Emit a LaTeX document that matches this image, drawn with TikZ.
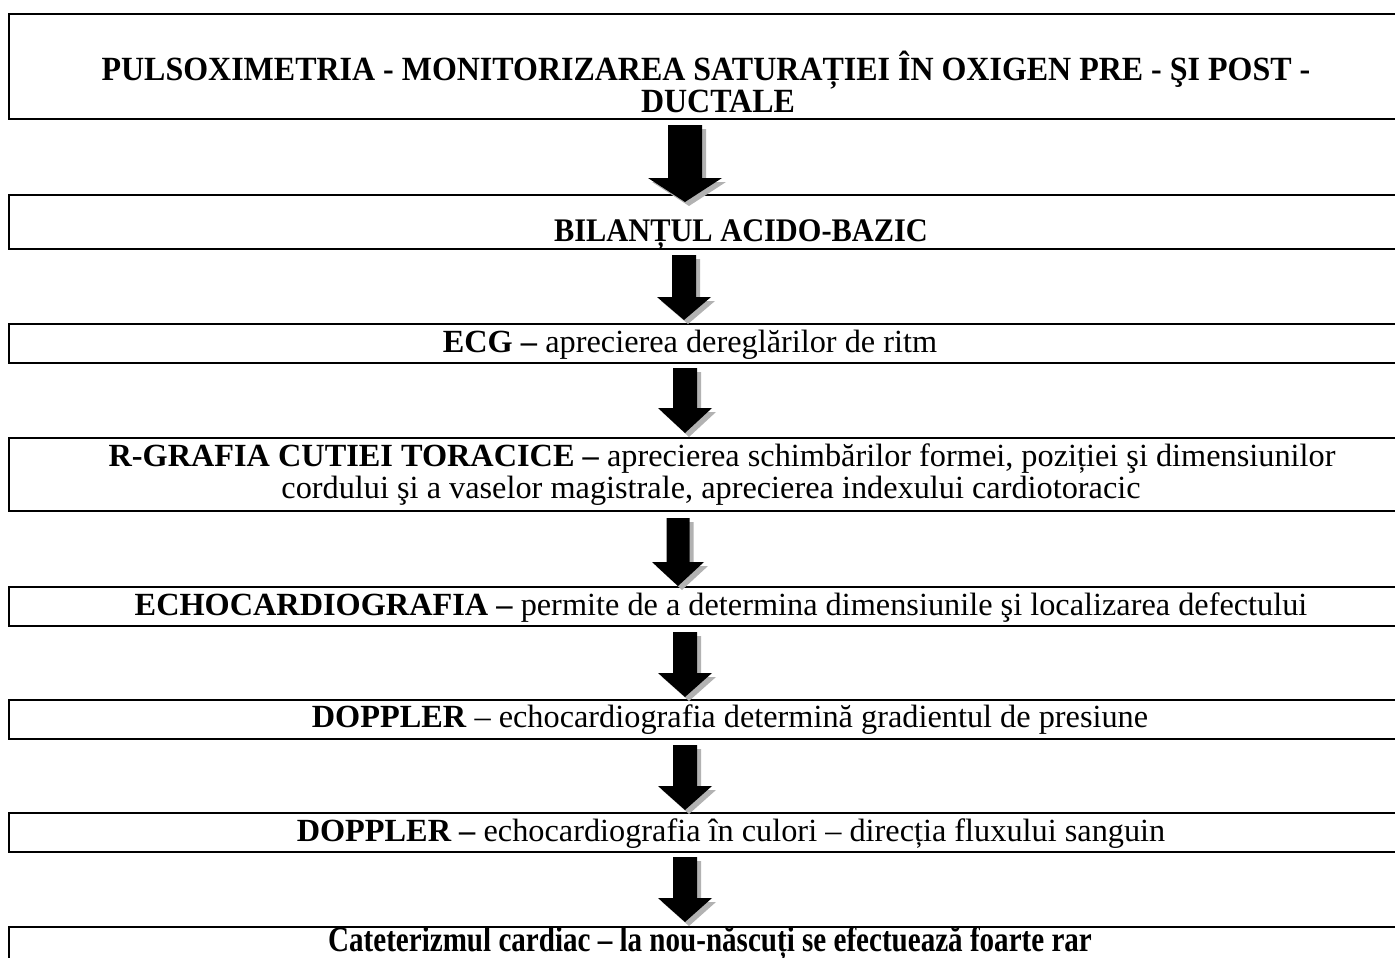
\documentclass[tikz,border=0pt]{standalone}
\usepackage{fontspec}
\setmainfont{Liberation Serif}
\newcommand\blkdownarrow[6]{%
  \fill[gray!60] (#1-#5+4,#2+4) -- (#1+#5+4,#2+4) -- (#1+#5+4,#3+4) -- (#1+#6+4,#3+4) -- (#1+4,#4+4) -- (#1-#6+4,#3+4) -- (#1-#5+4,#3+4) -- cycle;
  \fill[black] (#1-#5,#2) -- (#1+#5,#2) -- (#1+#5,#3) -- (#1+#6,#3) -- (#1,#4) -- (#1-#6,#3) -- (#1-#5,#3) -- cycle;
}
\begin{document}
\begin{tikzpicture}[x=1pt,y=-1pt,
  stagebox/.style={draw, line width=1.8pt, inner sep=0pt, anchor=north west, minimum width=1500pt},
  txt/.style={anchor=base, inner sep=0pt, font=\fontsize{32.3}{36}\selectfont}]
\useasboundingbox (0,0) rectangle (1395,958);
% boxes
\node[stagebox, minimum height=105pt] (b1) at (8,13) {};
\node[stagebox, minimum height=54pt] (b2) at (8,194) {};
\node[stagebox, minimum height=39pt] (b3) at (8,323) {};
\node[stagebox, minimum height=73pt] (b4) at (8,437) {};
\node[stagebox, minimum height=39pt] (b5) at (8,586) {};
\node[stagebox, minimum height=39pt] (b6) at (8,699) {};
\node[stagebox, minimum height=39pt] (b7) at (8,812) {};
\node[stagebox, minimum height=80pt] (b8) at (8,926) {};
% arrows
\blkdownarrow{685}{125}{178}{202}{17}{37}
\blkdownarrow{684}{255}{297}{320}{12}{27}
\blkdownarrow{685}{368}{408}{433}{12}{27}
\blkdownarrow{678}{518}{562}{586}{11.5}{26}
\blkdownarrow{685}{632}{673}{697}{12}{27}
\blkdownarrow{685}{745}{786}{810}{12}{27}
\blkdownarrow{685}{857}{898}{922}{12}{27}
% texts
\node[txt] (t1a) at (706,81) {\scalebox{0.99}[1.05]{\textbf{PULSOXIMETRIA - MONITORIZAREA SATURAȚIEI ÎN OXIGEN PRE - ŞI POST -}}};
\node[txt] (t1b) at (718,112) {\scalebox{0.99}[1.05]{\textbf{DUCTALE}}};
\node[txt] (t2) at (741,241) {\scalebox{0.94}[1.02]{\textbf{BILANȚUL ACIDO-BAZIC}}};
\node[txt] (t3) at (690,352) {\textbf{ECG –} aprecierea dereglărilor de ritm};
\node[txt] (t4a) at (722,466) {\textbf{R-GRAFIA CUTIEI TORACICE –} aprecierea schimbărilor formei, poziției şi dimensiunilor};
\node[txt] (t4b) at (711,498) {cordului şi a vaselor magistrale, aprecierea indexului cardiotoracic};
\node[txt] (t5) at (721,615) {\textbf{ECHOCARDIOGRAFIA –} permite de a determina dimensiunile şi localizarea defectului};
\node[txt] (t6) at (730,727) {\textbf{DOPPLER} – echocardiografia determină gradientul de presiune};
\node[txt] (t7) at (731,841) {\textbf{DOPPLER –} echocardiografia în culori – direcția fluxului sanguin};
\node[txt] (t8) at (710,951) {\scalebox{0.9}[1.1]{\textbf{Cateterizmul cardiac – la nou-născuți se efectuează foarte rar}}};
\end{tikzpicture}
\end{document}
